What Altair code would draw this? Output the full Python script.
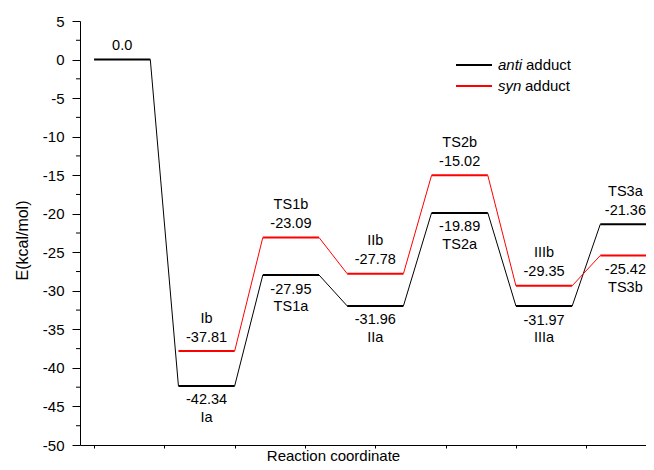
import altair as alt
import pandas as pd

# ---- data ----
stages = ["R", "I", "TS1", "II", "TS2", "III", "TS3"]
anti_energy = [0.0, -42.34, -27.95, -31.96, -19.89, -31.97, -21.36]
syn_energy = [None, -37.81, -23.09, -27.78, -15.02, -29.35, -25.42]
anti_names = ["", "Ia", "TS1a", "IIa", "TS2a", "IIIa", "TS3a"]
syn_names = ["", "Ib", "TS1b", "IIb", "TS2b", "IIIb", "TS3b"]
anti_side = ["above", "below", "below", "below", "below", "below", "above"]
syn_side = [None, "above", "above", "above", "above", "above", "below"]
y_major = [5, 0, -5, -10, -15, -20, -25, -30, -35, -40, -45, -50]
y_minor = [2.5, -2.5, -7.5, -12.5, -17.5, -22.5, -27.5, -32.5, -37.5, -42.5, -47.5]
x_ticks = [0, 1, 2, 3, 4, 5, 6, 7]

# ---- layout of the diagram (x units) ----
PITCH = 1.2
LEN = 0.8

level_rows, conn_rows, label_rows = [], [], []
for series, energies, names, sides in [
    ("anti", anti_energy, anti_names, anti_side),
    ("syn", syn_energy, syn_names, syn_side),
]:
    prev = None
    for i, e in enumerate(energies):
        if e is None:
            continue
        x0 = i * PITCH
        x1 = x0 + LEN
        level_rows.append({"series": series, "x0": x0, "x1": x1, "energy": e})
        if prev is not None:
            conn_rows.append({"series": series, "xa": prev[0], "ea": prev[1],
                              "xb": x0, "eb": e})
        prev = (x1, e)
        value_txt = "0.0" if e == 0 else f"{e:.2f}"
        edge = i == len(stages) - 1
        label_rows.append({"xm": x0 + LEN / 2, "energy": e, "txt": value_txt,
                           "role": "value", "side": sides[i], "edge": edge})
        if names[i]:
            label_rows.append({"xm": x0 + LEN / 2, "energy": e, "txt": names[i],
                               "role": "name", "side": sides[i], "edge": edge})

levels = pd.DataFrame(level_rows)
conns = pd.DataFrame(conn_rows)
labels = pd.DataFrame(label_rows)
minor = pd.DataFrame({"tick": y_minor})

FONT = "Liberation Sans"
xscale = alt.Scale(domain=[-0.2, 7.85], nice=False, zero=False)
yscale = alt.Scale(domain=[-50, 5], nice=False, zero=False)
color = alt.Color("series:N", legend=None,
                  scale=alt.Scale(domain=["anti", "syn"], range=["#000000", "#ff0000"]))

# the same axis objects are given to every layer so that they merge cleanly
x_axis = alt.Axis(values=x_ticks, labels=False, tickSize=3, grid=False,
                  domainColor="#000000", tickColor="#000000",
                  title="Reaction coordinate", titleFont=FONT, titleFontSize=15,
                  titleFontWeight="normal", titleColor="#000000",
                  titleX=253, titleY=15, titleBaseline="alphabetic", titleAlign="center")
y_axis = alt.Axis(values=y_major, tickSize=8, labelPadding=8,
                  grid=False, domainColor="#000000", tickColor="#000000",
                  labelFont=FONT, labelFontSize=15, labelColor="#000000",
                  labelExpr="toString(datum.value)",
                  title="E(kcal/mol)", titleFont=FONT, titleFontSize=16,
                  titleFontWeight="normal", titleColor="#000000",
                  titleAngle=270, titleX=-58, titleY=219,
                  titleAlign="center", titleBaseline="middle")


def X(field):
    return alt.X(field, scale=xscale, axis=x_axis, title="Reaction coordinate")


def Y(field):
    return alt.Y(field, scale=yscale, axis=y_axis, title="E(kcal/mol)")


level_layer = alt.Chart(levels).mark_rule(strokeWidth=2).encode(
    x=X("x0:Q"), x2="x1:Q", y=Y("energy:Q"), color=color,
)
# minor ticks of the energy axis
minor_layer = alt.Chart(minor).mark_rule(color="#000000", strokeWidth=1).encode(
    x=alt.value(-4), x2=alt.value(0), y=Y("tick:Q"),
)
conn_layer = alt.Chart(conns).mark_rule(strokeWidth=1).encode(
    x=X("xa:Q"), x2="xb:Q", y=Y("ea:Q"), y2="eb:Q", color=color,
)


def label_layer(role, side, dy, edge, dx):
    return alt.Chart(labels).transform_filter(
        (alt.datum.role == role) & (alt.datum.side == side) & (alt.datum.edge == edge)
    ).mark_text(font=FONT, fontSize=14.5, color="#000000", baseline="middle",
                align="center", dy=dy, dx=dx).encode(
        x=X("xm:Q"), y=Y("energy:Q"), text="txt:N",
    )


text_layers = []
for edge, dx in [(False, 0), (True, -3)]:
    text_layers += [
        label_layer("value", "above", -13.5, edge, dx),
        label_layer("name", "above", -32.5, edge, dx),
        label_layer("value", "below", 14.5, edge, dx),
        label_layer("name", "below", 32, edge, dx),
    ]

# ---- legend (drawn by hand so that only the word anti / syn is italic) ----
legend_src = alt.Chart(pd.DataFrame({"k": [0]}))
leg = []
for col, ypx, word, word_w in [("#000000", 44, "anti", 28), ("#ff0000", 65, "syn", 27)]:
    leg.append(legend_src.mark_rule(color=col, strokeWidth=2).encode(
        x=alt.value(376), x2=alt.value(412), y=alt.value(ypx)))
    leg.append(legend_src.mark_text(font=FONT, fontSize=15, fontStyle="italic",
                                    align="left", baseline="middle", color="#000000").encode(
        x=alt.value(418), y=alt.value(ypx), text=alt.value(word)))
    leg.append(legend_src.mark_text(font=FONT, fontSize=15, align="left",
                                    baseline="middle", color="#000000").encode(
        x=alt.value(418 + word_w), y=alt.value(ypx), text=alt.value("adduct")))

chart = alt.layer(level_layer, minor_layer, conn_layer, *text_layers, *leg).properties(
    width=566, height=424,
    autosize=alt.AutoSizeParams(type="none"),
    padding={"left": 72, "top": 13, "right": 0, "bottom": 17},
).configure_view(stroke=None)

chart.save("out.html", embed_options={"renderer": "svg", "actions": False})
